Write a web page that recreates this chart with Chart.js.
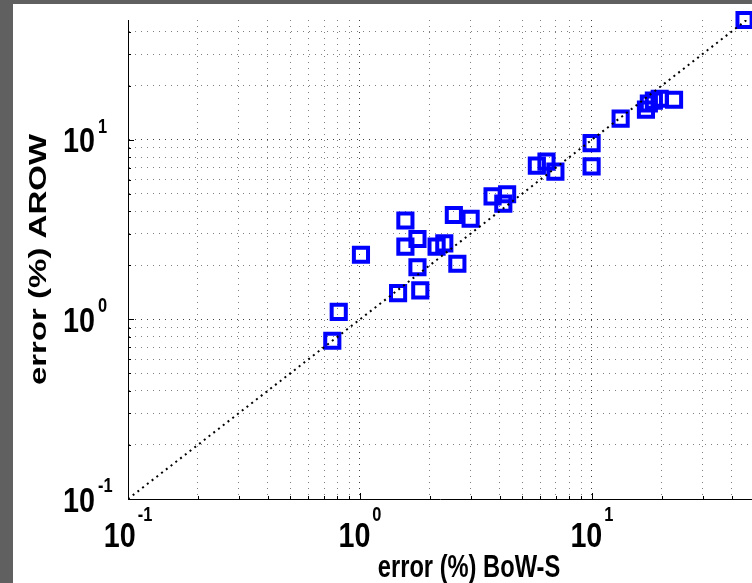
<!DOCTYPE html>
<html>
<head>
<meta charset="utf-8">
<script src="https://cdn.jsdelivr.net/npm/chart.js@4/dist/chart.umd.min.js"></script>
<style>
  html, body { margin: 0; padding: 0; background: #fff; overflow: hidden; }
  #wrap { width: 752px; height: 583px; }
</style>
</head>
<body>
<div id="wrap"><canvas id="scatterChart" width="752" height="583"></canvas></div>
<script>
// error (%) per dataset
const bowS = [0.76, 0.81, 1.01, 1.46, 1.82, 1.57, 1.57, 1.77, 1.77, 2.14, 2.31, 2.63, 2.54, 3.00,
              3.73, 4.31, 4.15, 5.79, 6.37, 6.96, 9.97, 9.97, 13.3, 17.1, 17.6, 18.5, 19.6, 22.6, 45.5];
const arow = [0.76, 1.10, 2.29, 1.40, 1.45, 3.55, 2.54, 2.80, 1.95, 2.54, 2.65, 2.04, 3.81, 3.63,
              4.84, 4.97, 4.41, 7.17, 7.55, 6.64, 9.57, 7.11, 13.1, 14.7, 15.9, 16.5, 16.9, 16.7, 46.4];

// y = x reference line
const diagonal = [0.1, 60];

// decade ticks and their exponent labels
const decades = [0.1, 1, 10];
const exponents = ["-1", "0", "1"];

const xRange = [0.1, 49];
const yRange = [0.1, 46.4];

function logTicks(max) {
    const ticks = [];
    decades.forEach(d => {
        for (let m = 1; m <= 9; m++) {
            const v = +(d * m).toPrecision(3);
            if (v < max) ticks.push({ value: v, major: m === 1 });
        }
    });
    return ticks;
}

const gridColor = ctx => (ctx.tick && ctx.tick.major) ? "rgba(0,0,0,0.75)" : "rgba(0,0,0,0.5)";

const FONT = "'Liberation Sans', Arial, sans-serif";

function squeezedText(ctx, text, x, y, size, squeeze, align) {
    ctx.save();
    ctx.font = "bold " + size + "px " + FONT;
    ctx.translate(x, y);
    ctx.scale(squeeze, 1);
    ctx.textAlign = align;
    ctx.textBaseline = "alphabetic";
    ctx.fillText(text, 0, 0);
    ctx.restore();
}

function textWidth(ctx, text, size, squeeze) {
    ctx.font = "bold " + size + "px " + FONT;
    return ctx.measureText(text).width * squeeze;
}

const matlabLook = {
    id: "matlabLook",
    beforeDraw(chart) {
        const ctx = chart.ctx;
        ctx.save();
        ctx.fillStyle = "#fff";
        ctx.fillRect(0, 0, chart.width, chart.height);
        ctx.restore();
    },
    afterDraw(chart) {
        const ctx = chart.ctx;
        const xs = chart.scales.x, ys = chart.scales.y;
        const area = chart.chartArea;
        ctx.save();

        // inward tick marks
        ctx.strokeStyle = "#000";
        ctx.lineWidth = 1;
        ctx.beginPath();
        xs.ticks.forEach(t => {
            const px = Math.round(xs.getPixelForValue(t.value)) + 0.5;
            const len = t.major ? 6 : 3;
            ctx.moveTo(px, area.bottom);
            ctx.lineTo(px, area.bottom - len);
        });
        ys.ticks.forEach(t => {
            const py = Math.round(ys.getPixelForValue(t.value)) + 0.5;
            const len = t.major ? 6 : 3;
            ctx.moveTo(area.left, py);
            ctx.lineTo(area.left + len, py);
        });
        ctx.stroke();

        ctx.fillStyle = "#000";
        const big = 35, small = 20, k = 0.82;

        // y tick labels
        decades.forEach((d, i) => {
            const py = ys.getPixelForValue(d);
            squeezedText(ctx, "10", 95, py + 12.5, big, k, "right");
            squeezedText(ctx, exponents[i], 98, py - 7, small, k, "left");
        });

        // x tick labels
        decades.forEach((d, i) => {
            const px = xs.getPixelForValue(d);
            const w10 = textWidth(ctx, "10", big, k);
            const wExp = textWidth(ctx, exponents[i], small, k);
            const start = px - (w10 + 2 + wExp) / 2;
            squeezedText(ctx, "10", start, 547, big, k, "left");
            squeezedText(ctx, exponents[i], start + w10 + 2, 521, small, k, "left");
        });

        // axis titles
        squeezedText(ctx, "error (%) BoW-S", 469, 577, 32, 0.74, "center");
        ctx.save();
        ctx.translate(46, (area.top + area.bottom) / 2);
        ctx.rotate(-Math.PI / 2);
        ctx.scale(1, 0.74);
        ctx.font = "bold 33px " + FONT;
        ctx.textAlign = "center";
        ctx.textBaseline = "alphabetic";
        ctx.fillText("error (%) AROW", 0, 0);
        ctx.restore();

        // window frame
        ctx.fillStyle = "#606060";
        ctx.fillRect(0, 0, chart.width, 4);
        ctx.fillRect(0, 0, 13, chart.height);
        ctx.restore();
    }
};

const ctx = document.getElementById("scatterChart").getContext("2d");

new Chart(ctx, {
    type: "scatter",
    data: {
        datasets: [
            {
                type: "line",
                label: "y = x",
                data: diagonal.map(v => ({ x: v, y: v })),
                borderColor: "#000",
                borderWidth: 2,
                borderDash: [2, 4],
                pointRadius: 0,
                fill: false,
            },
            {
                label: "datasets",
                data: bowS.map((v, i) => ({ x: v, y: arow[i] })),
                pointStyle: "rect",
                pointRadius: 10,
                pointHoverRadius: 10,
                pointBorderWidth: 4,
                borderColor: "#0000ff",
                backgroundColor: "rgba(0,0,0,0)",
                clip: false,
            },
        ],
    },
    options: {
        responsive: false,
        animation: false,
        events: [],
        layout: {
            autoPadding: false,
            padding: { left: 128, top: 20, right: 0, bottom: 84 },
        },
        plugins: {
            legend: { display: false },
            tooltip: { enabled: false },
        },
        scales: {
            x: {
                type: "logarithmic",
                min: xRange[0],
                max: xRange[1],
                afterBuildTicks: axis => { axis.ticks = logTicks(xRange[1]); },
                ticks: { display: false },
                grid: { color: gridColor, lineWidth: 1, drawTicks: false },
                border: { display: true, color: "#000", width: 1, dash: [1, 5] },
            },
            y: {
                type: "logarithmic",
                min: yRange[0],
                max: yRange[1],
                afterBuildTicks: axis => { axis.ticks = logTicks(yRange[1]); },
                ticks: { display: false },
                grid: { color: gridColor, lineWidth: 1, drawTicks: false },
                border: { display: true, color: "#000", width: 1, dash: [1, 5] },
            },
        },
    },
    plugins: [matlabLook],
});
</script>
</body>
</html>
